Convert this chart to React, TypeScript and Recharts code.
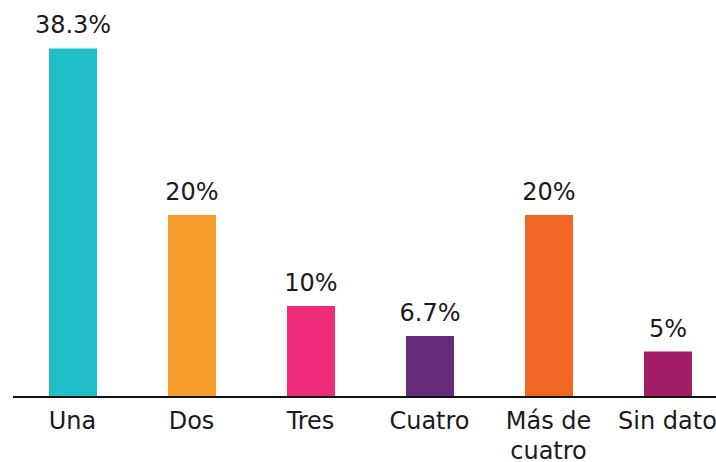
import React from 'react'
import { BarChart, Bar, XAxis, YAxis, Cell, LabelList } from 'recharts'

const categories = ['Una', 'Dos', 'Tres', 'Cuatro', 'Más de cuatro', 'Sin dato']
const percentages = [38.3, 20, 10, 6.7, 20, 5]
const barColors = ['#20BEC6', '#F89C2B', '#EE2C7A', '#662D7D', '#F26624', '#A21D63']

const data = categories.map((name, i) => ({ name, value: percentages[i] }))

const FONT = '"DejaVu Sans", sans-serif'

const CategoryTick = (props: any) => {
  const { x, y, payload } = props
  const label: string = payload.value
  // "Más de cuatro" breaks over two lines in the original
  const lines = label === 'Más de cuatro' ? ['Más de', 'cuatro'] : [label]
  return (
    <text x={x} y={y} textAnchor="middle" fill="#1a1a1a" fontSize={24} fontFamily={FONT}>
      {lines.map((l, i) => (
        <tspan key={i} x={x} dy={i === 0 ? 24 : 30}>{l}</tspan>
      ))}
    </text>
  )
}

const App = () => {
  return (
    <div style={{ position: 'absolute', left: 0, top: 0, width: 716, height: 462, overflow: 'hidden', background: '#fff' }}>
      <BarChart
        width={729}
        height={462}
        data={data}
        margin={{ top: 33, right: 2, left: 13, bottom: 0 }}
        barCategoryGap={0}
      >
        <XAxis
          dataKey="name"
          height={65}
          tickLine={false}
          axisLine={{ stroke: '#111', strokeWidth: 2 }}
          tick={<CategoryTick />}
          interval={0}
        />
        <YAxis hide domain={[0, 40]} />
        <Bar dataKey="value" barSize={48} isAnimationActive={false}>
          {data.map((d, i) => (
            <Cell key={d.name} fill={barColors[i]} />
          ))}
          <LabelList
            dataKey="value"
            position="top"
            offset={15}
            formatter={(v: any) => `${v}%`}
            fill="#1a1a1a"
            fontSize={24}
            fontFamily={FONT}
          />
        </Bar>
      </BarChart>
    </div>
  )
}

export default App
